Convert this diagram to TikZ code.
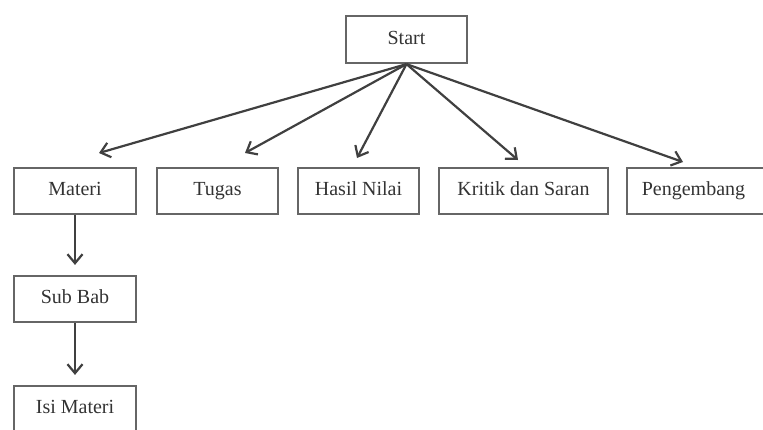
\documentclass[tikz,border=0pt]{standalone}
\usepackage{fontspec}
\setmainfont{Liberation Serif}
\usetikzlibrary{arrows.meta}
\begin{document}
\begin{tikzpicture}[x=1pt,y=-1pt,
  box/.style={draw=black!60,line width=2.2pt,minimum height=46pt,inner sep=0pt,text height=13pt,text depth=4pt,font=\fontsize{20}{24}\selectfont,text=black!80},
  arr/.style={draw=black!75,line width=2.2pt,-{Straight Barb[length=9pt,width=15pt,line width=2.2pt]}}]
\useasboundingbox (0,0) rectangle (763,429);
\clip (0,0) rectangle (763,429);
\node[box,minimum width=121pt,minimum height=47pt] (start) at (406.5,39.5) {Start};
\node[box,minimum width=122pt] (materi) at (75,191) {Materi};
\node[box,minimum width=121pt] (tugas) at (217.5,191) {Tugas};
\node[box,minimum width=121pt] (hasil) at (358.5,191) {Hasil Nilai};
\node[box,minimum width=169pt] (kritik) at (523.5,191) {Kritik dan Saran};
\node[box,minimum width=143pt] (peng) at (698.5,191) {Pengembang\hspace*{10pt}};
\node[box,minimum width=122pt] (sub) at (75,299) {Sub Bab};
\node[box,minimum width=122pt] (isi) at (75,409) {Isi Materi};
\coordinate (t1) at (99,153);
\coordinate (t2) at (245,153);
\coordinate (t3) at (357,158);
\coordinate (t4) at (518,160);
\coordinate (t5) at (683,162);
\foreach \t in {t1,t2,t3,t4,t5} \draw[arr] (start.south) -- (\t);
\draw[arr,shorten >=10pt] (materi.south) -- (sub.north);
\draw[arr,shorten >=10pt] (sub.south) -- (isi.north);
\end{tikzpicture}
\end{document}
